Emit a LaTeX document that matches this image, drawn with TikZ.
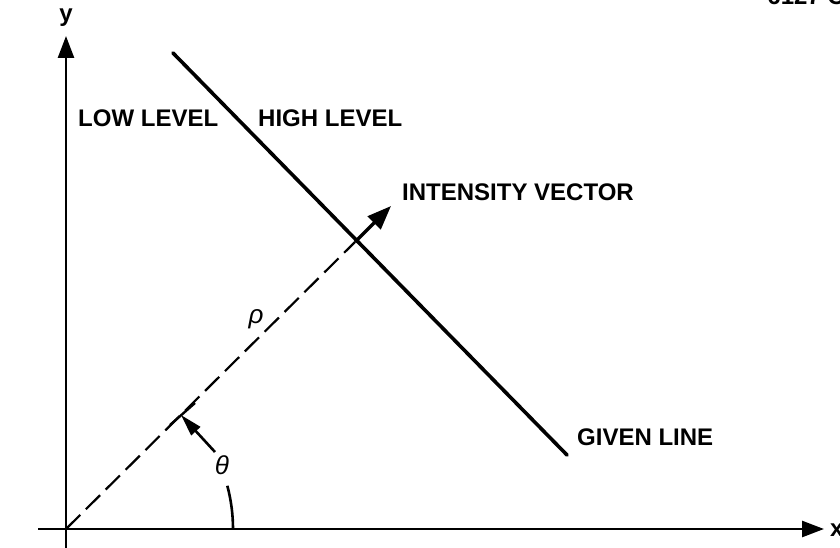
\documentclass[tikz,border=0pt]{standalone}
\usepackage{fontspec}
\setmainfont{Liberation Sans}
\usetikzlibrary{arrows.meta}
\begin{document}
\begin{tikzpicture}[x=1pt,y=-1pt,
  lbl/.style={font=\fontsize{24}{24}\selectfont\bfseries, inner sep=0pt},
  greek/.style={font=\fontsize{26}{26}\selectfont\itshape, inner sep=0pt},
  axis/.style={line width=2.6pt, -{Triangle[length=22pt,width=16pt]}},
  gline/.style={line width=3.6pt, line cap=round},
  dline/.style={line width=2.2pt, dash pattern=on 20pt off 8pt}]
\useasboundingbox (0,0) rectangle (840,548);
\clip (0,0) rectangle (840,548);
\coordinate (O) at (66,529);
\coordinate (xs) at (38,529);
\coordinate (xe) at (824,529);
\coordinate (ys) at (66,548);
\coordinate (ye) at (66,36);
\draw[axis] (xs) -- (xe);
\draw[axis] (ys) -- (ye);
\node[lbl, anchor=west] (xl) at (830,530) {x};
\node[lbl] (yl) at (66,18) {y};
\node[lbl, anchor=north east] (code) at (845,-12) {6127 C};
% given line
\coordinate (g1) at (173,53);
\coordinate (g2) at (567,455);
\draw[gline] (g1) -- (g2);
% intensity vector
\coordinate (cross) at (355,242);
\coordinate (tip) at (391,206);
\draw[dline] (O) -- (cross);
\draw[line width=3.4pt, -{Triangle[length=24pt,width=18pt]}] (cross) -- (tip);
% tick mark
\coordinate (t1) at (170,425);
\coordinate (t2) at (195,403);
\draw[line width=2.4pt] (t1) -- (t2);
\coordinate (ta) at (215,452);
\coordinate (tb) at (181,415);
\draw[line width=2.6pt, -{Triangle[length=22pt,width=12pt]}] (ta) -- (tb);
% angle arc
\draw[line width=2.6pt] (O) ++(-15:167) arc[start angle=-15, end angle=0, radius=167];
\node[greek] (theta) at (222,465) {θ};
\node[greek] (rho) at (256,319) {ρ};
% labels
\node[lbl, anchor=west] (low) at (78,118) {LOW LEVEL};
\node[lbl, anchor=west] (high) at (258,118) {HIGH LEVEL};
\node[lbl, anchor=west] (iv) at (402,192) {INTENSITY VECTOR};
\node[lbl, anchor=west] (gl) at (577,437) {GIVEN LINE};
\end{tikzpicture}
\end{document}
